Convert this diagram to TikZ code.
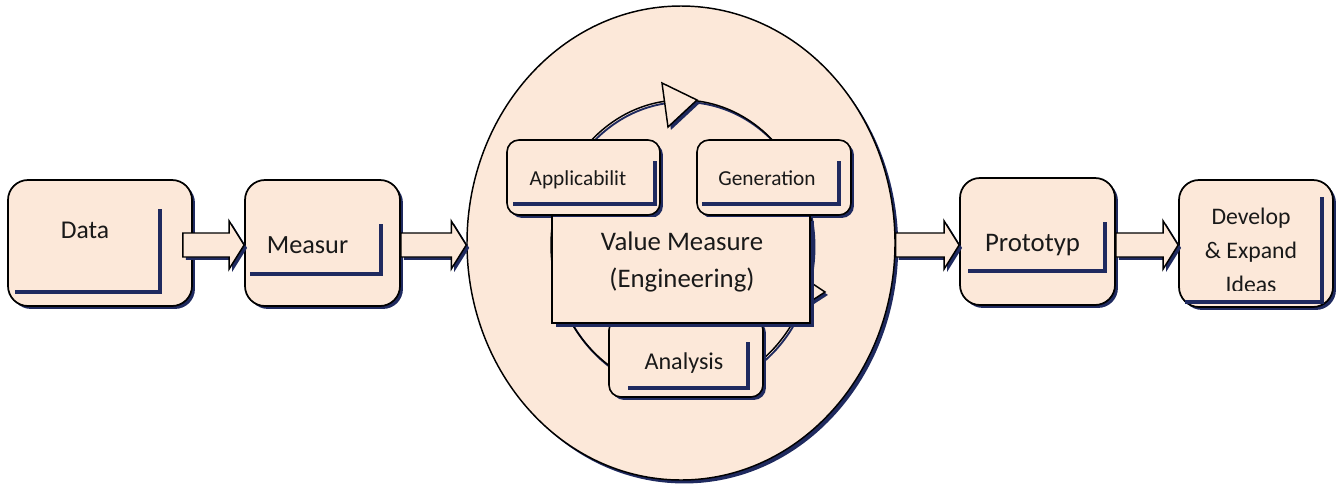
\documentclass[tikz,border=0pt]{standalone}
\usepackage{fontspec}
\setmainfont{Carlito}
\usetikzlibrary{shapes.geometric,shadows,calc}
\definecolor{peach}{RGB}{252,232,217}
\definecolor{navy}{RGB}{31,42,95}
\newcommand\blockarrow[2]{%
  \draw[barrow] let \p1=(#1), \p2=(#2) in
    (\x1,\y1+9pt) -- (\x2-11.25pt,\y1+9pt) -- (\x2-11.25pt,\y1+18pt) -- (\x2,\y1)
    -- (\x2-11.25pt,\y1-18pt) -- (\x2-11.25pt,\y1-9pt) -- (\x1,\y1-9pt) -- cycle;}
\begin{document}
\begin{tikzpicture}[x=0.75pt,y=-0.75pt,
  shad/.style={drop shadow={shadow xshift=2.2pt,shadow yshift=-2.2pt,fill=navy,opacity=1}},
  bigbox/.style={draw=black,line width=1.3pt,fill=peach,rounded corners=15pt,inner sep=0pt,shad},
  smallbox/.style={draw=black,line width=1.2pt,fill=peach,rounded corners=9pt,inner sep=0pt,shad},
  barrow/.style={draw=black,line width=1.1pt,fill=peach,shad},
  inner/.style={draw=navy,line width=2.4pt},
  txt/.style={inner sep=0pt,anchor=base,text=black!90},
  mtxt/.style={inner sep=0pt,align=center,text=black!90}
]
\useasboundingbox[fill=white] (0,0) rectangle (1341,483);

% left boxes
\node[bigbox,minimum width=138pt,minimum height=94.5pt] (data) at (100,243) {};
\draw[inner] (15,292) -- (160,292) -- (160,209);
\node[txt,font=\fontsize{19.2}{23}\selectfont] (datat) at (85,238) {Data};

\node[bigbox,minimum width=116.25pt,minimum height=94.5pt] (measur) at (322.5,243) {};
\draw[inner] (250,274) -- (381,274) -- (381,224);
\node[txt,font=\fontsize{19.7}{23}\selectfont] (measurt) at (307.5,253) {Measur};

\blockarrow{$(data.east)+(-10,2)$}{measur.west}

% big ellipse
\node[ellipse,draw=black,line width=1.1pt,fill=peach,inner sep=0pt,
  minimum width=321pt,minimum height=355.5pt,
  drop shadow={shadow xshift=2.4pt,shadow yshift=-2.6pt,fill=navy,opacity=1}] (bigc) at (681,243) {};

\blockarrow{$(measur.east)+(0,2)$}{bigc.west}

% cycle
\draw[navy,line width=1.4pt] (683.5,247) ellipse [x radius=131,y radius=145];
\draw[black,line width=1.1pt] (682,245) ellipse [x radius=131,y radius=145];
\draw[black,line width=1.1pt,fill=peach,shad] (662,83) -- (697,100) -- (668,127) -- cycle;
\draw[black,line width=1.1pt,fill=peach,shad] (795,272) -- (825,292) -- (805,305) -- cycle;

% inner boxes
\node[smallbox,minimum width=114.75pt,minimum height=56.25pt] (appl) at (583.5,177.5) {};
\draw[inner] (513,204) -- (655,204) -- (655,161);
\node[txt,font=\fontsize{16}{19}\selectfont] (applt) at (578,185) {Applicabilit};

\node[smallbox,minimum width=115.5pt,minimum height=56.25pt] (gen) at (774,177.5) {};
\draw[inner] (702,204) -- (839,204) -- (839,161);
\node[txt,font=\fontsize{16}{19}\selectfont] (gent) at (767,185) {Generation};

\node[smallbox,minimum width=115.5pt,minimum height=59.25pt] (anal) at (686,357.5) {};
\draw[inner] (628,388) -- (748,388) -- (748,342);
\node[txt,font=\fontsize{18.1}{21}\selectfont] (analt) at (684,369) {Analysis};

\node[fill=peach,inner sep=0pt,minimum width=193.5pt,minimum height=79.5pt,
  drop shadow={shadow xshift=3pt,shadow yshift=-3pt,fill=navy,opacity=1}] (vm) at (681,269.5) {};
\draw[black,line width=1.2pt] (vm.north west) -- (vm.south west) -- (vm.south east) -- (vm.north east);
\node[mtxt,font=\fontsize{20.1}{27.5}\selectfont] (vmt) at (682,262) {Value Measure\\(Engineering)};

% right side
\node[bigbox,minimum width=116.25pt,minimum height=95.25pt] (proto) at (1037.5,241.5) {};
\draw[inner] (968,271) -- (1105,271) -- (1105,222);
\node[txt,font=\fontsize{20.1}{24}\selectfont] (protot) at (1032.5,251) {Prototyp};

\node[bigbox,minimum width=115.5pt,minimum height=95.25pt] (dev) at (1256,243.5) {};
\draw[inner] (1185,302) -- (1322,302) -- (1322,197);
\begin{scope}
\clip (1180,182) rectangle (1330,290);
\node[mtxt,font=\fontsize{17.8}{25.5}\selectfont] (devt) at (1251,250) {Develop\\\& Expand\\Ideas};
\end{scope}

\blockarrow{$(bigc.east)+(0,2)$}{proto.west}
\blockarrow{$(proto.east)+(0,3.5)$}{dev.west}
\end{tikzpicture}
\end{document}
